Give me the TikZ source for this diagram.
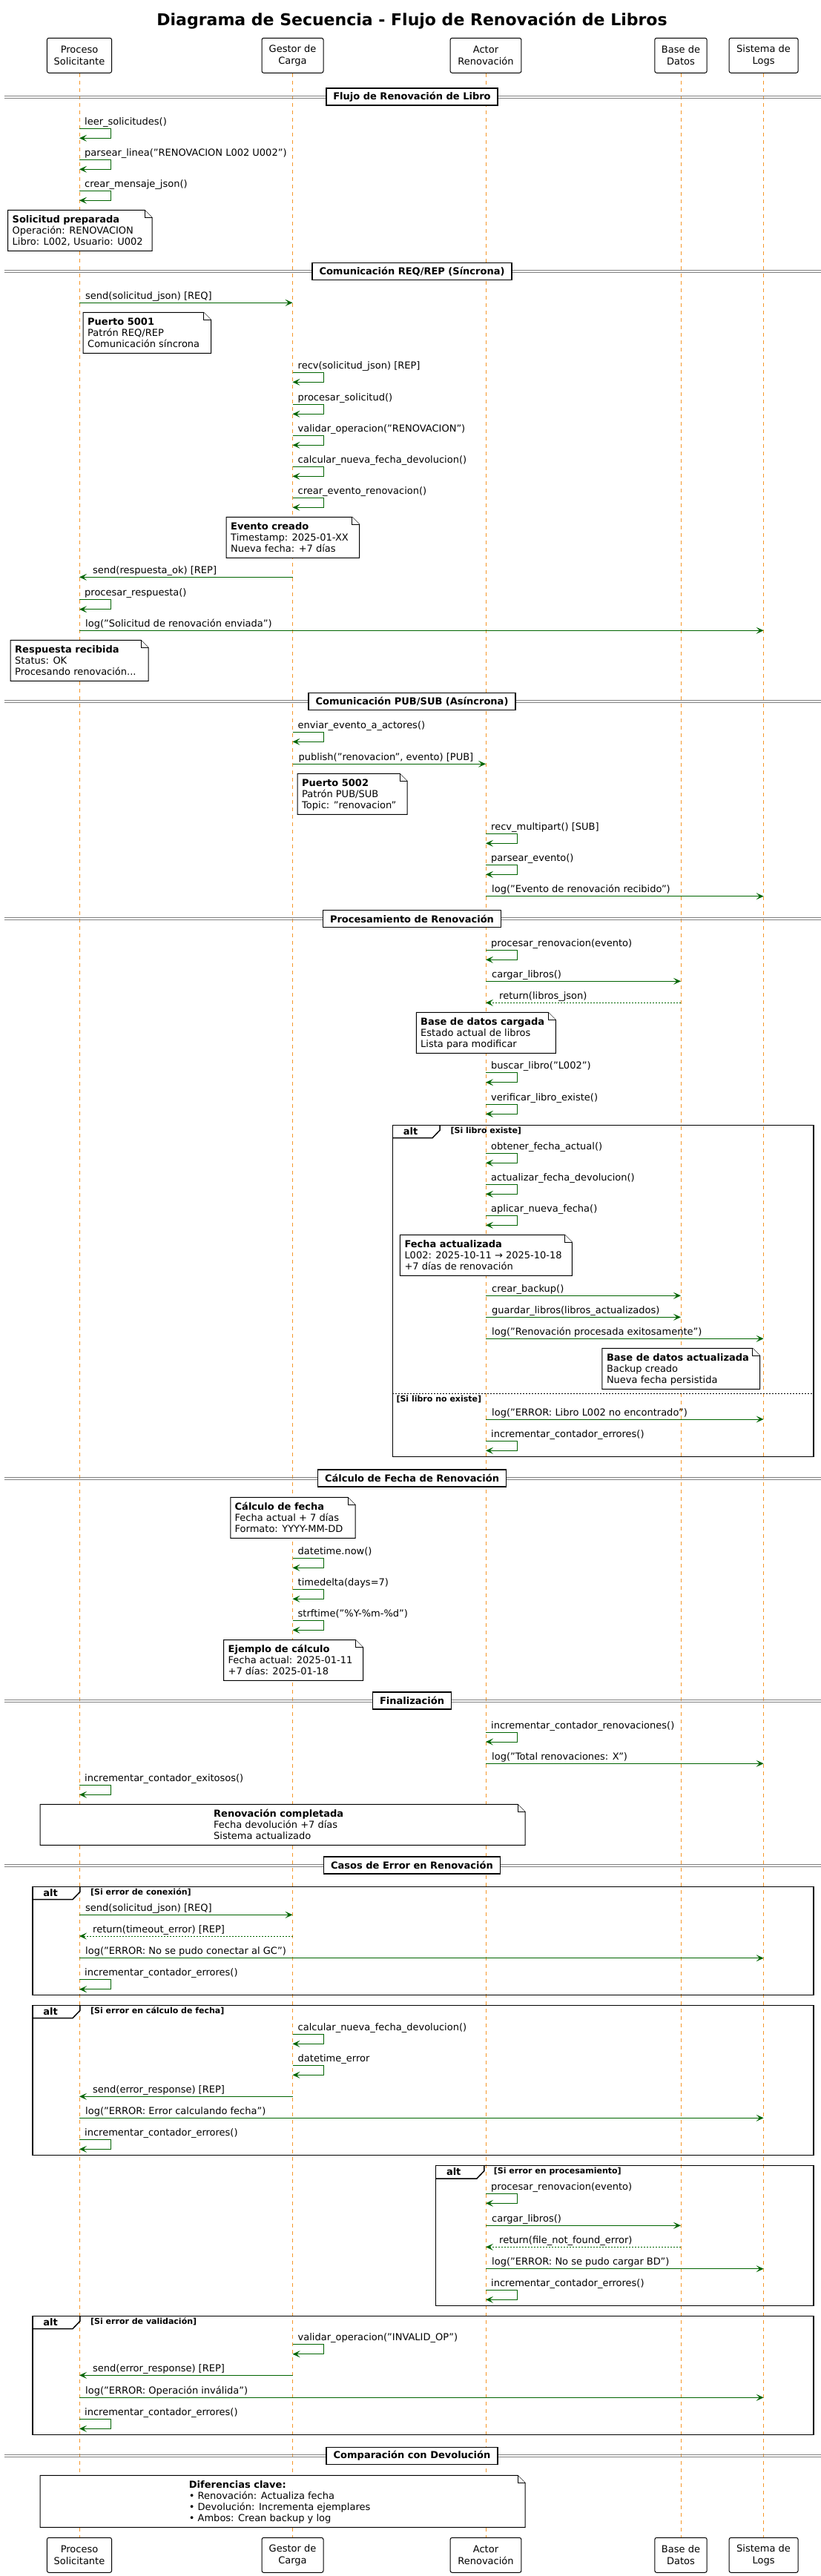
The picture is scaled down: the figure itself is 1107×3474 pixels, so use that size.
\documentclass[tikz,border=0pt]{standalone}
\usepackage{fontspec}
\setmainfont{DejaVu Sans}
\usetikzlibrary{arrows.meta}
\definecolor{dgreen}{RGB}{0,100,0}
\definecolor{lorange}{RGB}{245,150,40}
\definecolor{sepgray}{RGB}{128,128,128}
\newcommand\mfont{\fontsize{13}{15}\selectfont}
\newcommand\gfont{\fontsize{11}{13}\selectfont\bfseries}
\newcounter{ev}
\def\xA{107}\def\xB{394.5}\def\xC{655}\def\xD{918}\def\xE{1029.6}
\tikzset{
  lbl/.style={font=\mfont, inner sep=0pt, anchor=base west},
  msgarrow/.style={draw=dgreen, line width=1pt, -{Stealth[length=10pt,width=9pt,inset=4.5pt]}},
  retarrow/.style={msgarrow, dash pattern=on 2pt off 2pt},
  lifeline/.style={draw=lorange, line width=1pt, dash pattern=on 5pt off 5pt},
  sepline/.style={draw=sepgray, line width=1pt},
  sepbox/.style={draw, line width=1.5pt, fill=white, font=\mfont\bfseries, inner xsep=9.5pt, inner ysep=0pt, minimum height=23pt},
  notestyle/.style={draw, line width=1pt, fill=white},
  altstyle/.style={draw, line width=1.5pt},
  elsestyle/.style={draw, line width=1pt, dash pattern=on 2pt off 2pt},
  part/.style={draw, line width=1pt, rounded corners=2.5pt, fill=white, align=center, font=\fontsize{13}{16}\selectfont, inner sep=0pt, minimum height=47pt},
}
\newcommand\selfmsg[3]{\stepcounter{ev}%
  \coordinate (st\theev) at (#1,#2);%
  \coordinate (sb\theev) at (#1,#2+13);%
  \draw[msgarrow] (st\theev) -- ++(42,0) |- (sb\theev);%
  \node[lbl] (sl\theev) at (#1+7,#2-5) {#3};}
\newcommand\msgr[5]{\stepcounter{ev}%
  \coordinate (ma\theev) at (#2,#4);%
  \coordinate (mb\theev) at (#3,#4);%
  \draw[#1] (ma\theev) -- (mb\theev);%
  \node[lbl] (ml\theev) at (#2+8,#4-5) {#5};}
\newcommand\msgl[5]{\stepcounter{ev}%
  \coordinate (ma\theev) at (#2,#4);%
  \coordinate (mb\theev) at (#3,#4);%
  \draw[#1] (ma\theev) -- (mb\theev);%
  \node[lbl] (ml\theev) at (#3+18,#4-5) {#5};}
\newcommand\sepl[2]{\stepcounter{ev}%
  \coordinate (da\theev) at (5.7,#1-1.3);%
  \coordinate (db\theev) at (1107,#1-1.3);%
  \coordinate (dc\theev) at (5.7,#1+1.3);%
  \coordinate (dd\theev) at (1107,#1+1.3);%
  \draw[sepline] (da\theev) -- (db\theev);%
  \draw[sepline] (dc\theev) -- (dd\theev);%
  \node[sepbox] (ds\theev) at (555.5,#1) {#2};}
\newcommand\notebg[4]{%
  \draw[notestyle] (#1,#2) -- (#3-10,#2) -- (#3,#2+10) -- (#3,#4) -- (#1,#4) -- cycle;%
  \draw[notestyle] (#3-10,#2) -- (#3-10,#2+10) -- (#3,#2+10);}
\newcommand\mknote[8]{\stepcounter{ev}%
  \notebg{#1}{#2}{#3}{#4}%
  \node[lbl,font=\mfont\bfseries] (na\theev) at (#5,#2+17) {#6};%
  \node[lbl] (nb\theev) at (#5,#2+32) {#7};%
  \node[lbl] (nc\theev) at (#5,#2+47) {#8};}
\newcommand\mknoteiv[9]{\stepcounter{ev}%
  \notebg{#1}{#2}{#3}{#4}%
  \node[lbl,font=\mfont\bfseries] (na\theev) at (#5,#2+17) {#6};%
  \node[lbl] (nb\theev) at (#5,#2+32) {#7};%
  \node[lbl] (nc\theev) at (#5,#2+47.5) {#8};%
  \node[lbl] (nd\theev) at (#5,#2+62.5) {#9};}
\newcommand\altfrm[6]{\stepcounter{ev}%
  \draw[altstyle] (#1,#2) rectangle (#3,#4);%
  \draw[altstyle] (#1,#2+17.4) -- (#1+#5-10,#2+17.4) -- (#1+#5,#2+7) -- (#1+#5,#2);%
  \node[lbl,font=\mfont\bfseries] (aa\theev) at (#1+14.2,#2+12.7) {alt};%
  \node[lbl,font=\gfont] (ag\theev) at (#1+78,#2+11) {#6};}
\begin{document}
\begin{tikzpicture}[x=1pt,y=-1pt]
\useasboundingbox (0,0) rectangle (1107,3474);
\fill[white] (0,0) rectangle (1107,3474);
% title
\node[font=\fontsize{22}{26}\selectfont\bfseries, inner sep=0pt, anchor=base] (title) at (555.5,35) {Diagrama de Secuencia - Flujo de Renovación de Libros};
% participants
\node[part, minimum width=87.2pt] (pA) at (\xA,74.8) {Proceso\\Solicitante};
\node[part, minimum width=83pt] (pB) at (\xB,74.8) {Gestor de\\Carga};
\node[part, minimum width=95.8pt] (pC) at (\xC,74.8) {Actor\\Renovación};
\node[part, minimum width=70.3pt] (pD) at (\xD,74.8) {Base de\\Datos};
\node[part, minimum width=93pt] (pE) at (\xE,74.8) {Sistema de\\Logs};
\node[part, minimum width=87.2pt] (qA) at (\xA,3445.8) {Proceso\\Solicitante};
\node[part, minimum width=83pt] (qB) at (\xB,3445.8) {Gestor de\\Carga};
\node[part, minimum width=95.8pt] (qC) at (\xC,3445.8) {Actor\\Renovación};
\node[part, minimum width=70.3pt] (qD) at (\xD,3445.8) {Base de\\Datos};
\node[part, minimum width=93pt] (qE) at (\xE,3445.8) {Sistema de\\Logs};
\draw[lifeline] (pA.south) -- (qA.north);
\draw[lifeline] (pB.south) -- (qB.north);
\draw[lifeline] (pC.south) -- (qC.north);
\draw[lifeline] (pD.south) -- (qD.north);
\draw[lifeline] (pE.south) -- (qE.north);
% ---- Flujo
\sepl{130.7}{Flujo de Renovación de Libro}
\selfmsg{\xA}{173.3}{leer\_solicitudes()}
\selfmsg{\xA}{215.3}{parsear\_linea("RENOVACION L002 U002")}
\selfmsg{\xA}{257.3}{crear\_mensaje\_json()}
\mknote{10.6}{283.3}{205}{338.3}{16.5}{Solicitud preparada}{Operación: RENOVACION}{Libro: L002, Usuario: U002}
% ---- REQ/REP
\sepl{366}{Comunicación REQ/REP (Síncrona)}
\msgr{msgarrow}{\xA}{\xB}{408.3}{send(solicitud\_json) [REQ]}
\mknote{112}{421.3}{284.5}{476.3}{118}{Puerto 5001}{Patrón REQ/REP}{Comunicación síncrona}
\selfmsg{\xB}{502.3}{recv(solicitud\_json) [REP]}
\selfmsg{\xB}{545.3}{procesar\_solicitud()}
\selfmsg{\xB}{587.3}{validar\_operacion("RENOVACION")}
\selfmsg{\xB}{629.3}{calcular\_nueva\_fecha\_devolucion()}
\selfmsg{\xB}{671.3}{crear\_evento\_renovacion()}
\mknote{305}{697.3}{484.7}{752.3}{311}{Evento creado}{Timestamp: 2025-01-XX}{Nueva fecha: +7 días}
\msgl{msgarrow}{\xB}{\xA}{778.3}{send(respuesta\_ok) [REP]}
\selfmsg{\xA}{808.7}{procesar\_respuesta()}
\msgr{msgarrow}{\xA}{\xE}{850.3}{log("Solicitud de renovación enviada")}
\mknote{14.2}{863.3}{200}{918.3}{20}{Respuesta recibida}{Status: OK}{Procesando renovación...}
% ---- PUB/SUB
\sepl{946}{Comunicación PUB/SUB (Asíncrona)}
\selfmsg{\xB}{987.3}{enviar\_evento\_a\_actores()}
\msgr{msgarrow}{\xB}{\xC}{1030.3}{publish("renovacion", evento) [PUB]}
\mknote{401}{1043.3}{549}{1098.3}{407}{Puerto 5002}{Patrón PUB/SUB}{Topic: "renovacion"}
\selfmsg{\xC}{1124.3}{recv\_multipart() [SUB]}
\selfmsg{\xC}{1166.3}{parsear\_evento()}
\msgr{msgarrow}{\xC}{\xE}{1208.7}{log("Evento de renovación recibido")}
% ---- Procesamiento
\sepl{1239}{Procesamiento de Renovación}
\selfmsg{\xC}{1281.3}{procesar\_renovacion(evento)}
\msgr{msgarrow}{\xC}{\xD}{1323.3}{cargar\_libros()}
\msgl{retarrow}{\xD}{\xC}{1352.3}{return(libros\_json)}
\mknote{561.3}{1365.3}{749.3}{1420.3}{567}{Base de datos cargada}{Estado actual de libros}{Lista para modificar}
\selfmsg{\xC}{1446.7}{buscar\_libro("L002")}
\selfmsg{\xC}{1489.3}{verificar\_libro\_existe()}
\altfrm{529.4}{1517.3}{1097}{1964.3}{63.6}{[Si libro existe]}
\selfmsg{\xC}{1555.3}{obtener\_fecha\_actual()}
\selfmsg{\xC}{1597.3}{actualizar\_fecha\_devolucion()}
\selfmsg{\xC}{1639.3}{aplicar\_nueva\_fecha()}
\mknote{539.3}{1665.3}{771.4}{1720.3}{545.3}{Fecha actualizada}{L002: 2025-10-11 → 2025-10-18}{+7 días de renovación}
\msgr{msgarrow}{\xC}{\xD}{1747.3}{crear\_backup()}
\msgr{msgarrow}{\xC}{\xD}{1776.3}{guardar\_libros(libros\_actualizados)}
\msgr{msgarrow}{\xC}{\xE}{1805.3}{log("Renovación procesada exitosamente")}
\mknote{811.8}{1818.3}{1024.7}{1873.3}{817.8}{Base de datos actualizada}{Backup creado}{Nueva fecha persistida}
\coordinate (elA) at (529.4,1879.3);
\coordinate (elB) at (1097,1879.3);
\draw[elsestyle] (elA) -- (elB);
\node[lbl,font=\gfont] (elT) at (534.3,1890) {[Si libro no existe]};
\msgr{msgarrow}{\xC}{\xE}{1914}{log("ERROR: Libro L002 no encontrado")}
\selfmsg{\xC}{1943.3}{incrementar\_contador\_errores()}
% ---- Calculo
\sepl{1993.7}{Cálculo de Fecha de Renovación}
\mknote{310.8}{2019.3}{479}{2074.3}{316.5}{Cálculo de fecha}{Fecha actual + 7 días}{Formato: YYYY-MM-DD}
\selfmsg{\xB}{2101.3}{datetime.now()}
\selfmsg{\xB}{2143.3}{timedelta(days=7)}
\selfmsg{\xB}{2185.3}{strftime("\%Y-\%m-\%d")}
\mknote{301.6}{2211.7}{489.6}{2266.3}{307.5}{Ejemplo de cálculo}{Fecha actual: 2025-01-11}{+7 días: 2025-01-18}
% ---- Finalizacion
\sepl{2293.7}{Finalización}
\selfmsg{\xC}{2336}{incrementar\_contador\_renovaciones()}
\msgr{msgarrow}{\xC}{\xE}{2378.3}{log("Total renovaciones: X")}
\selfmsg{\xA}{2407.3}{incrementar\_contador\_exitosos()}
\mknote{54}{2433.3}{708}{2488.3}{288}{Renovación completada}{Fecha devolución +7 días}{Sistema actualizado}
% ---- Errores
\sepl{2515.7}{Casos de Error en Renovación}
\altfrm{44}{2544.3}{1097}{2690.3}{63.9}{[Si error de conexión]}
\msgr{msgarrow}{\xA}{\xB}{2582.3}{send(solicitud\_json) [REQ]}
\msgl{retarrow}{\xB}{\xA}{2611}{return(timeout\_error) [REP]}
\msgr{msgarrow}{\xA}{\xE}{2640.7}{log("ERROR: No se pudo conectar al GC")}
\selfmsg{\xA}{2669.7}{incrementar\_contador\_errores()}
\altfrm{44}{2704.3}{1097}{2906.3}{63.9}{[Si error en cálculo de fecha]}
\selfmsg{\xB}{2743.3}{calcular\_nueva\_fecha\_devolucion()}
\selfmsg{\xB}{2785.3}{datetime\_error}
\msgl{msgarrow}{\xB}{\xA}{2827.3}{send(error\_response) [REP]}
\msgr{msgarrow}{\xA}{\xE}{2856.3}{log("ERROR: Error calculando fecha")}
\selfmsg{\xA}{2885.3}{incrementar\_contador\_errores()}
\altfrm{587.6}{2920.7}{1097}{3109.3}{65.2}{[Si error en procesamiento]}
\selfmsg{\xC}{2958.3}{procesar\_renovacion(evento)}
\msgr{msgarrow}{\xC}{\xD}{3001.3}{cargar\_libros()}
\msgl{retarrow}{\xD}{\xC}{3030.3}{return(file\_not\_found\_error)}
\msgr{msgarrow}{\xC}{\xE}{3059.7}{log("ERROR: No se pudo cargar BD")}
\selfmsg{\xC}{3088.3}{incrementar\_contador\_errores()}
\altfrm{44}{3123.3}{1097}{3283.3}{63.9}{[Si error de validación]}
\selfmsg{\xB}{3161.7}{validar\_operacion("INVALID\_OP")}
\msgl{msgarrow}{\xB}{\xA}{3203.3}{send(error\_response) [REP]}
\msgr{msgarrow}{\xA}{\xE}{3233.3}{log("ERROR: Operación inválida")}
\selfmsg{\xA}{3262.3}{incrementar\_contador\_errores()}
% ---- Comparacion
\sepl{3312}{Comparación con Devolución}
\mknoteiv{54}{3338.3}{708}{3408.3}{254.7}{Diferencias clave:}{• Renovación: Actualiza fecha}{• Devolución: Incrementa ejemplares}{• Ambos: Crean backup y log}
\end{tikzpicture}
\end{document}
